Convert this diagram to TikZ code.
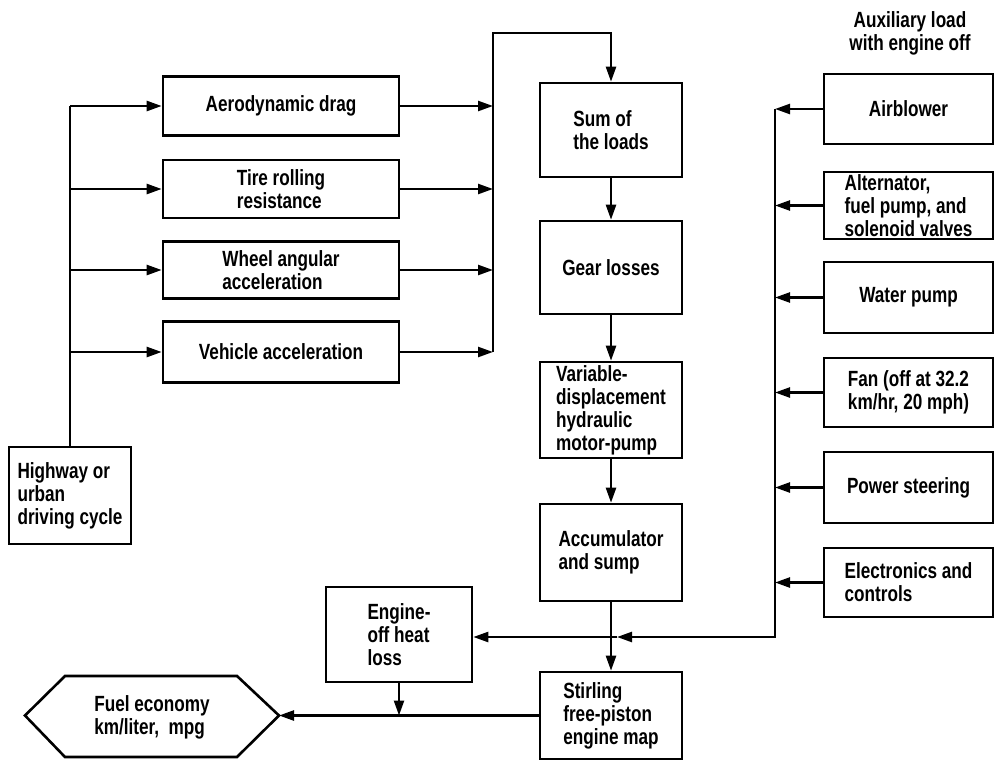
\documentclass[tikz,border=0pt]{standalone}
\usepackage{fontspec}
\setmainfont{Liberation Sans}[FakeStretch=0.78]
\usetikzlibrary{arrows.meta}
\begin{document}
\begin{tikzpicture}[x=1pt,y=-1pt,line width=2.4pt,
  txt/.style={font=\fontsize{22}{23}\selectfont\bfseries},
  box/.style={draw,line width=2.6pt,inner sep=0pt,align=left,txt},
  lbox/.style={box,minimum width=236pt},
  mbox/.style={box,minimum width=142pt},
  abox/.style={box,minimum width=169pt},
  arr/.style={-{Triangle[length=15pt,width=10pt]}}]
\useasboundingbox (0,0) rectangle (995,760);
% left column
\node[lbox,minimum height=59pt] (aero) at (281,106) {Aerodynamic drag};
\node[lbox,minimum height=58pt] (tire) at (281,189) {Tire rolling\\ resistance};
\node[lbox,minimum height=57pt] (wheel) at (281,270) {Wheel angular\\ acceleration};
\node[lbox,minimum height=61pt] (veh) at (281,352) {Vehicle acceleration};
\node[box,minimum width=122pt,minimum height=97pt] (hwy) at (70,495.5) {Highway or\\ urban\\ driving cycle};
% middle column
\node[mbox,minimum height=94pt] (sum) at (611,130) {Sum of\\ the loads};
\node[mbox,minimum height=93pt] (gear) at (611,267.5) {Gear losses};
\node[mbox,minimum height=96pt] (var) at (611,410) {Variable-\\ displacement\\ hydraulic\\ motor-pump};
\node[mbox,minimum height=97pt] (acc) at (611,552.5) {Accumulator\\ and sump};
\node[mbox,minimum height=87pt] (stir) at (611,715.5) {Stirling\\ free-piston\\ engine map};
% right column
\node[txt,align=center,inner sep=0pt] (title) at (910,33) {Auxiliary load\\ with engine off};
\node[abox,minimum height=70pt] (air) at (908.5,109) {Airblower};
\node[abox,minimum height=67pt] (alt) at (908.5,205.5) {Alternator,\\ fuel pump, and\\ solenoid valves};
\node[abox,minimum height=71pt] (water) at (908.5,297.5) {Water pump};
\node[abox,minimum height=69pt] (fan) at (908.5,392.5) {Fan (off at 32.2\\ km/hr, 20 mph)};
\node[abox,minimum height=71pt] (ps) at (908.5,487.5) {Power steering};
\node[abox,minimum height=69pt] (elec) at (908.5,582.5) {Electronics and\\ controls};
% bottom
\node[box,minimum width=146pt,minimum height=95pt] (eoff) at (399,634.5) {Engine-\\ off heat\\ loss};
\draw[line width=2.6pt,line join=miter] (25,715.5) -- (65,676) -- (237,676) -- (279,715.5) -- (237,757) -- (65,757) -- cycle;
\node[txt,align=left,inner sep=0pt] (fuel) at (152,717) {Fuel economy\\ km/liter,\ \ mpg};
\coordinate (fueltip) at (279,715.5);
% left bus
\coordinate (lbus) at (70,106);
\draw (hwy.north) -- (lbus);
\draw[arr] (lbus) -- (aero.west);
\draw[arr] (hwy.north |- tire.west) -- (tire.west);
\draw[arr] (hwy.north |- wheel.west) -- (wheel.west);
\draw[arr] (hwy.north |- veh.west) -- (veh.west);
% right bus
\coordinate (rtop) at (493,33);
\draw[arr] (aero.east) -- (rtop |- aero.east);
\draw[arr] (tire.east) -- (rtop |- tire.east);
\draw[arr] (wheel.east) -- (rtop |- wheel.east);
\draw[arr] (veh.east) -- (rtop |- veh.east);
\draw[arr] (rtop |- veh.east) -- (rtop) -- (sum.north |- rtop) -- (sum.north);
% middle chain
\draw[arr] (sum.south) -- (gear.north);
\draw[arr] (gear.south) -- (var.north);
\draw[arr] (var.south) -- (acc.north);
\draw[arr] (acc.south) -- (stir.north);
% aux bus
\coordinate (abus) at (775,110);
\coordinate (abot) at (775,637);
\coordinate (amid) at (617,637);
\draw[arr] (air.west) -- (abus |- air.west);
\draw[arr] (alt.west) -- (abus |- alt.west);
\draw[arr] (water.west) -- (abus |- water.west);
\draw[arr] (fan.west) -- (abus |- fan.west);
\draw[arr] (ps.west) -- (abus |- ps.west);
\draw[arr] (elec.west) -- (abus |- elec.west);
\draw[arr] (abus |- air.west) -- (abot) -- (amid);
\draw[arr] (amid) -- (eoff.east |- amid);
% to fuel economy
\coordinate (join) at (eoff.south |- stir.west);
\draw[arr] (eoff.south) -- (join);
\draw[arr] (stir.west) -- (fueltip);
\end{tikzpicture}
\end{document}
